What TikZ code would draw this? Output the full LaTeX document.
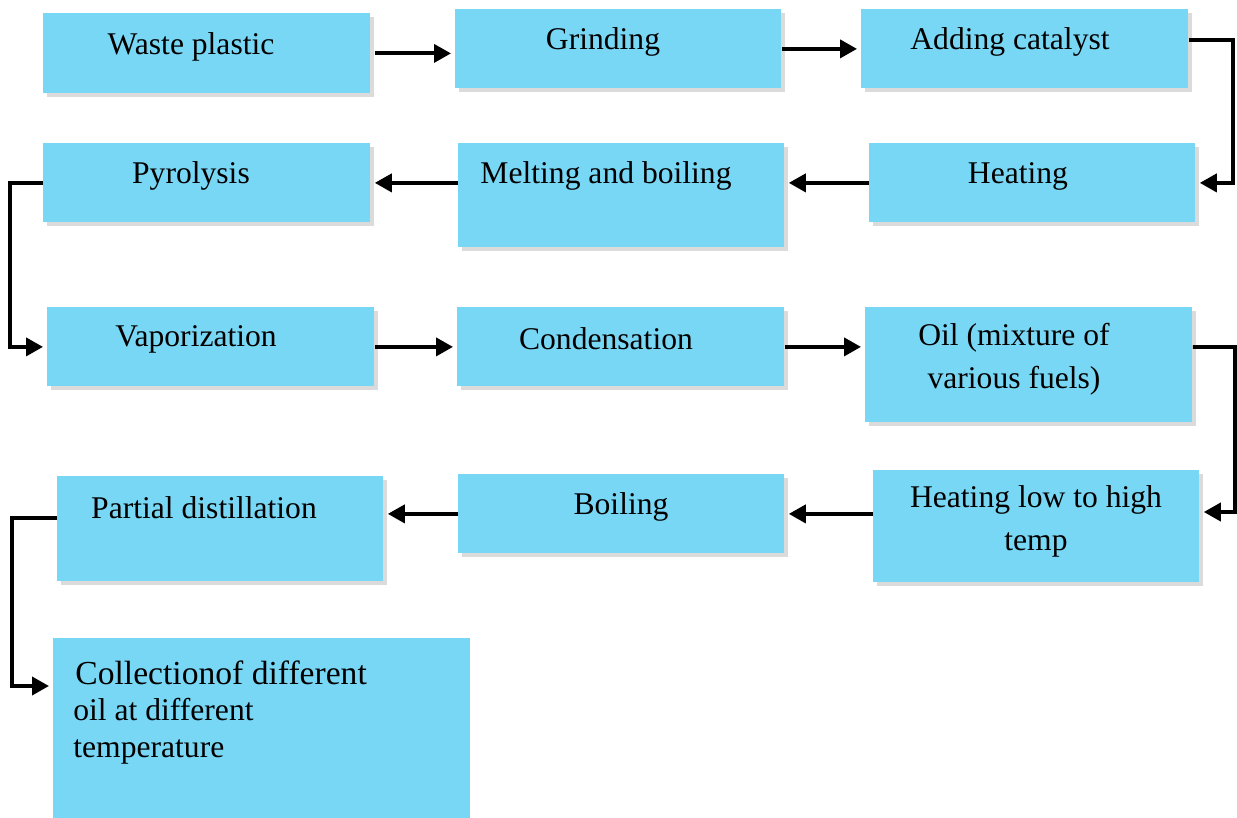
\documentclass[tikz,border=0pt]{standalone}
\usepackage{fontspec}
\setmainfont{Liberation Serif}
\usetikzlibrary{arrows.meta,shadows}
\definecolor{boxblue}{RGB}{121,215,246}
\tikzset{
  box/.style={fill=boxblue, draw=none, inner sep=0pt, anchor=north west,
    drop shadow={shadow xshift=2pt, shadow yshift=-2pt, fill=black!35, opacity=0.4}},
  plainbox/.style={fill=boxblue, draw=none, inner sep=0pt, anchor=north west},
  lbl/.style={font=\fontsize{15.8}{19}\selectfont, inner sep=0pt, align=center, yshift=-1.5pt},
  arr/.style={line width=1.9pt, -{Triangle[length=8.5pt,width=9pt]}, shorten >=2pt},
}
\begin{document}
\begin{tikzpicture}[x=0.5pt,y=-0.5pt]
\useasboundingbox (0,0) rectangle (1237,818);
% boxes (pixel coords)
\node[box, minimum width=163.5pt, minimum height=40pt] (wp) at (43,13) {};
\node[box, minimum width=163pt, minimum height=39.5pt] (gr) at (455,9) {};
\node[box, minimum width=163.5pt, minimum height=39.5pt] (ac) at (861,9) {};
\node[box, minimum width=163pt, minimum height=39.5pt] (he) at (869,143) {};
\node[box, minimum width=163pt, minimum height=52pt] (me) at (458,143) {};
\node[box, minimum width=163.5pt, minimum height=39.5pt] (py) at (43,143) {};
\node[box, minimum width=163.5pt, minimum height=39.5pt] (va) at (47,307) {};
\node[box, minimum width=163.5pt, minimum height=39.5pt] (co) at (457,307) {};
\node[box, minimum width=163.5pt, minimum height=57.5pt] (oil) at (865,307) {};
\node[box, minimum width=163pt, minimum height=56pt] (hl) at (873,470) {};
\node[box, minimum width=163pt, minimum height=39.5pt] (bo) at (458,474) {};
\node[box, minimum width=163pt, minimum height=52.5pt] (pd) at (57,476) {};
\node[plainbox, minimum width=208.5pt, minimum height=90pt] (cl) at (53,638) {};
% texts
\node[lbl] (twp) at (191,44) {Waste plastic};
\node[lbl] (tgr) at (603,39) {Grinding};
\node[lbl] (tac) at (1010,39) {Adding catalyst};
\node[lbl] (the) at (1018,173) {Heating};
\node[lbl] (tme) at (606,173) {Melting and boiling};
\node[lbl] (tpy) at (191,173) {Pyrolysis};
\node[lbl] (tva) at (196,336) {Vaporization};
\node[lbl] (tco) at (606,336) {Condensation};
\node[lbl] (toil1) at (1014,335) {Oil (mixture of};
\node[lbl] (toil2) at (1014,378) {various fuels)};
\node[lbl] (thl1) at (1036,497) {Heating low to high};
\node[lbl] (thl2) at (1036,542) {temp};
\node[lbl] (tbo) at (621,504) {Boiling};
\node[lbl] (tpd) at (204,505) {Partial distillation};
\node[lbl, anchor=west, font=\fontsize{16.8}{20}\selectfont] (tcl1) at (75,670) {Collectionof different};
\node[lbl, anchor=west] (tcl2) at (73,707) {oil at different};
\node[lbl, anchor=west] (tcl3) at (73,749) {temperature};
% connectors
\draw[arr] ([xshift=2pt]wp.east) -- (gr.west |- wp.east);
\draw[arr] (gr.east) -- (ac.west);
\draw[arr] ([yshift=4.25pt]ac.east) -- ++(22pt,0) |- (he.east);
\draw[arr] (he.west) -- (me.east |- he.west);
\draw[arr] (me.west |- he.west) -- (py.east);
\draw[arr] (py.west) -- ++(-16.5pt,0) |- (va.west);
\draw[arr] (va.east) -- (co.west);
\draw[arr] (co.east) -- (oil.west |- co.east);
\coordinate (c1) at (1235,347);
\coordinate (c2) at (1235,512);
\draw[arr] (oil.east |- co.east) -- (c1) -- (c2) -- (hl.east |- c2);
\draw[arr] (hl.west |- bo.west) -- (bo.east);
\draw[arr] (bo.west) -- (pd.east |- bo.west);
\coordinate (c3) at (12,518);
\coordinate (c4) at (12,686);
\draw[arr] (pd.west |- c3) -- (c3) -- (c4) -- (cl.west |- c4);
\end{tikzpicture}
\end{document}
